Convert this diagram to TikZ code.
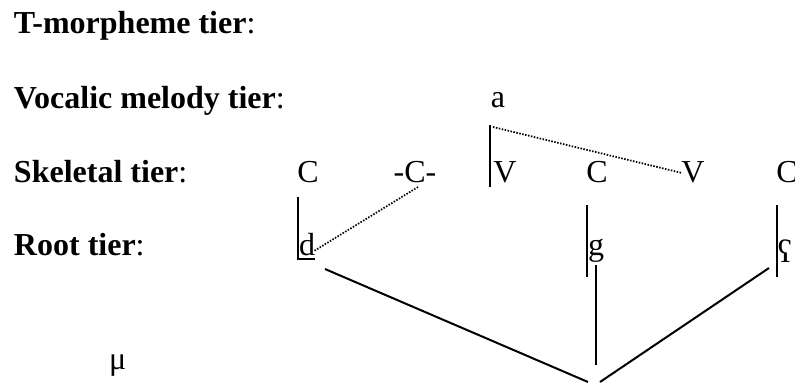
\documentclass[tikz,border=0pt]{standalone}
\usepackage{fontspec}
\setmainfont{Liberation Serif}

\begin{document}
\begin{tikzpicture}[
    x=0.4pt, y=-0.4pt,
    font=\fontsize{12.8}{15}\selectfont,
    tier/.style={anchor=base west, inner sep=0pt},
    seg/.style={anchor=base, inner sep=0pt},
    line width=0.8pt,
    % Style for the dotted spreading lines
    spread/.style={line width=0.7pt, dash pattern=on 0.6pt off 0.6pt}
]
    \useasboundingbox (0,0) rectangle (795,382);

    % Tier labels
    \node[tier] (tmorph) at (13, 33)  {\textbf{T-morpheme tier}:};
    \node[tier] (vocal)  at (13, 108) {\textbf{Vocalic melody tier}:};
    \node[tier] (skel)   at (13, 182) {\textbf{Skeletal tier}:};
    \node[tier] (root)   at (13, 255) {\textbf{Root tier}:};
    \node[tier] (mu)     at (108, 369) {μ};

    % Melody and skeleton
    \node[seg] (a)  at (498, 107) {a};
    \node[seg] (c1) at (308, 182) {C};
    \node[seg] (c2) at (415, 182) {-C-};
    \node[seg] (v1) at (505, 182) {V};
    \node[seg] (c3) at (597, 182) {C};
    \node[seg] (v2) at (693, 182) {V};
    \node[seg] (c4) at (787, 182) {C};

    % Root segments
    \node[seg] (d)    at (307, 255) {d};
    \node[seg] (g)    at (596, 255) {g};
    \node[seg] (phar) at (785, 262) {ʕ};

    % Coordinates
    \coordinate (c1_low) at (298, 197);
    \coordinate (d_low)  at (298, 259);
    \coordinate (d_end)  at (315, 259);
    \coordinate (c2_low) at (418, 187);
    \coordinate (d_dot)  at (314, 251);
    \coordinate (a_low)  at (490, 125);
    \coordinate (v1_low) at (490, 187);
    \coordinate (a_dot)  at (493, 127);
    \coordinate (v2_dot) at (682, 173);
    \coordinate (c3_low) at (587, 205);
    \coordinate (g_low)  at (587, 277);
    \coordinate (g_top)  at (596, 265);
    \coordinate (g_bot)  at (596, 365);
    \coordinate (c4_low) at (777, 205);
    \coordinate (ph_low) at (777, 277);
    \coordinate (d_leg)  at (325, 269);
    \coordinate (ph_leg) at (769, 268);
    \coordinate (apex_l) at (588, 382);
    \coordinate (apex_r) at (600, 382);

    % Association lines
    \draw (c1_low) -- (d_low) -- (d_end);
    \draw (a_low) -- (v1_low);
    \draw (c3_low) -- (g_low);
    \draw (c4_low) -- (ph_low);
    \draw[spread] (c2_low) -- (d_dot);
    \draw[spread] (a_dot) -- (v2_dot);

    % Root structure
    \draw (d_leg) -- (apex_l);
    \draw (apex_r) -- (ph_leg);
    \draw (g_top) -- (g_bot);

\end{tikzpicture}
\end{document}
